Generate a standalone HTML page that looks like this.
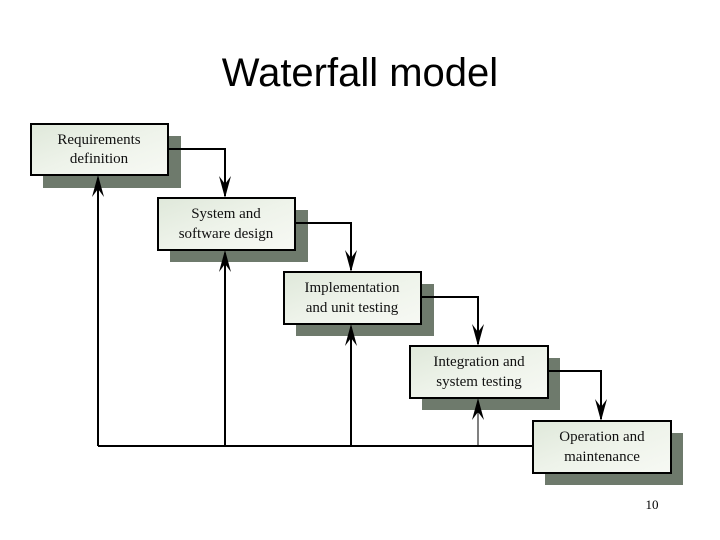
<!DOCTYPE html>
<html><head><meta charset="utf-8"><style>
html,body{margin:0;padding:0;background:#fff;}
svg{display:block}
</style></head><body>
<svg width="720" height="540" viewBox="0 0 720 540" xmlns="http://www.w3.org/2000/svg">
<defs>
<linearGradient id="g" x1="0" y1="0" x2="1" y2="1">
<stop offset="0" stop-color="#dfe8da"/><stop offset="0.5" stop-color="#eef3ea"/><stop offset="1" stop-color="#f7f9f4"/>
</linearGradient>
</defs>
<text x="360" y="86" font-family="Liberation Sans, sans-serif" font-size="40" text-anchor="middle" fill="#000">Waterfall model</text>

<g fill="#6e7a6c">
<rect x="43" y="136" width="138" height="52"/>
<rect x="170" y="210" width="138" height="52"/>
<rect x="296" y="284" width="138" height="52"/>
<rect x="422" y="358" width="138" height="52"/>
<rect x="545" y="433" width="138" height="52"/>
</g>

<g stroke="#000" stroke-width="2" fill="none">
<polyline points="168,149 225,149 225,196"/>
<polyline points="295,223 351,223 351,270"/>
<polyline points="421,297 478,297 478,344"/>
<polyline points="548,371 601,371 601,419"/>
<line x1="98" y1="446" x2="533" y2="446"/>
<line x1="98" y1="446" x2="98" y2="178"/>
<line x1="225" y1="446" x2="225" y2="253"/>
<line x1="351" y1="446" x2="351" y2="327"/>
<line x1="478" y1="446" x2="478" y2="400" stroke-width="1"/>
</g>

<g fill="#000">
<path d="M219,176 L225,198 L231,176 L225,184 Z"/>
<path d="M345,250 L351,272 L357,250 L351,258 Z"/>
<path d="M472,324 L478,346 L484,324 L478,332 Z"/>
<path d="M595,399 L601,421 L607,399 L601,407 Z"/>
<path d="M92,197 L98,175 L104,197 L98,189 Z"/>
<path d="M219,272 L225,250 L231,272 L225,264 Z"/>
<path d="M345,346 L351,324 L357,346 L351,338 Z"/>
<path d="M472,420 L478,398 L484,420 L478,412 Z"/>
</g>

<g fill="url(#g)" stroke="#000" stroke-width="2">
<rect x="31" y="124" width="137" height="51"/>
<rect x="158" y="198" width="137" height="52"/>
<rect x="284" y="272" width="137" height="52"/>
<rect x="410" y="346" width="138" height="52"/>
<rect x="533" y="421" width="138" height="52"/>
</g>

<g font-family="Liberation Serif, serif" font-size="15" text-anchor="middle" fill="#111">
<text x="99" y="144">Requirements</text><text x="99" y="163">definition</text>
<text x="226" y="218">System and</text><text x="226" y="238">software design</text>
<text x="352" y="292">Implementation</text><text x="352" y="312">and unit testing</text>
<text x="479" y="366">Integration and</text><text x="479" y="386">system testing</text>
<text x="602" y="441">Operation and</text><text x="602" y="461">maintenance</text>
</g>
<text x="652" y="509" font-family="Liberation Serif, serif" font-size="13" text-anchor="middle" fill="#000">10</text>
</svg>
</body></html>
